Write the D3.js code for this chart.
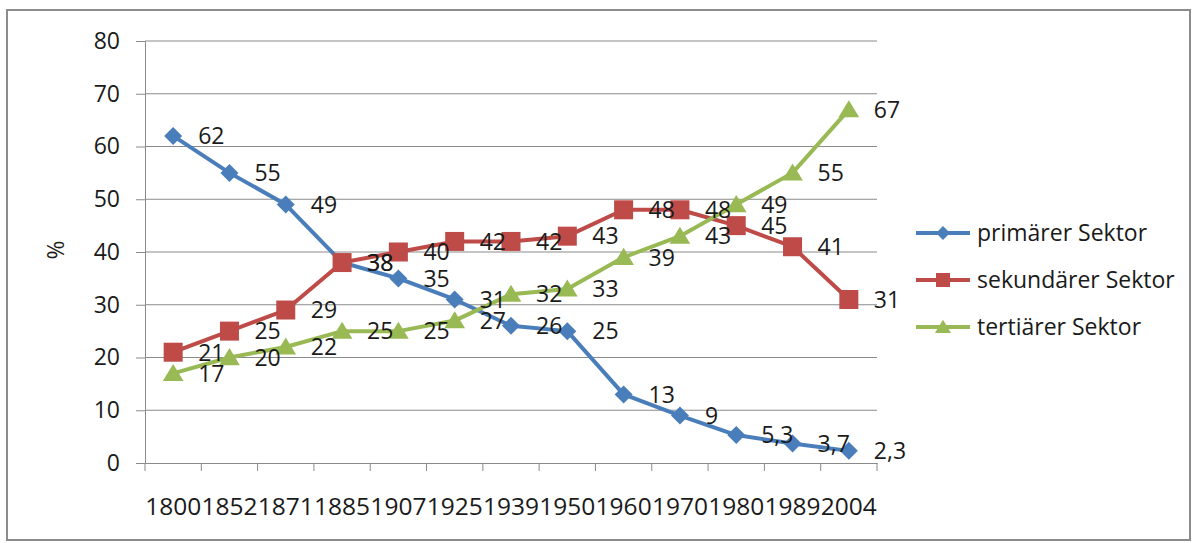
<!DOCTYPE html>
<html>
<head>
<meta charset="utf-8">
<script src="https://cdn.jsdelivr.net/npm/d3@7"></script>
<style>
  html, body { margin: 0; padding: 0; background: #fff; }
  svg { display: block; }
  text { font-family: "Open Sans", "Noto Sans", sans-serif; fill: #1a1a1a; }
</style>
</head>
<body>
<svg id="chart" width="1195" height="543"></svg>
<script>
// Erwerbstätige nach Wirtschaftssektoren (in %)
const years = ["1800", "1852", "1871", "1885", "1907", "1925", "1939", "1950", "1960", "1970", "1980", "1989", "2004"];
const primaer = [62, 55, 49, 38, 35, 31, 26, 25, 13, 9, 5.3, 3.7, 2.3];
const sekundaer = [21, 25, 29, 38, 40, 42, 42, 43, 48, 48, 45, 41, 31];
const tertiaer = [17, 20, 22, 25, 25, 27, 32, 33, 39, 43, 49, 55, 67];
const seriesNames = ["primärer Sektor", "sekundärer Sektor", "tertiärer Sektor"];
const yTicks = [0, 10, 20, 30, 40, 50, 60, 70, 80];

const series = [
  { name: seriesNames[0], values: primaer, color: "#4A7EBB", marker: "diamond" },
  { name: seriesNames[1], values: sekundaer, color: "#BE4B48", marker: "square" },
  { name: seriesNames[2], values: tertiaer, color: "#98B954", marker: "triangle" }
];

const svg = d3.select("#chart");
const plot = { left: 145, right: 877, top: 41, bottom: 463 };

// Outer chart frame
svg.append("rect")
  .attr("x", 7).attr("y", 10)
  .attr("width", 1183).attr("height", 530)
  .attr("fill", "#fff").attr("stroke", "#8c8c8c").attr("stroke-width", 2);

const x = d3.scaleBand().domain(years).range([plot.left, plot.right]).padding(0);
const y = d3.scaleLinear().domain([0, 80]).range([plot.bottom, plot.top]);
const cx = d => x(d) + x.bandwidth() / 2;

// Horizontal gridlines
svg.append("g")
  .selectAll("line").data(yTicks.filter(t => t > 0)).join("line")
  .attr("x1", plot.left).attr("x2", plot.right)
  .attr("y1", d => y(d)).attr("y2", d => y(d))
  .attr("stroke", "#8a8a8a").attr("stroke-width", 1);

// Y axis
const yAxis = svg.append("g")
  .attr("transform", `translate(${plot.left},0)`)
  .call(d3.axisLeft(y).tickValues(yTicks).tickSize(9).tickPadding(16).tickFormat(d3.format("d")));
yAxis.select(".domain").attr("stroke", "#8a8a8a");
yAxis.selectAll(".tick line").attr("stroke", "#8a8a8a");
yAxis.selectAll(".tick text").style("font-size", "23px").style("font-family", "'Open Sans', sans-serif").attr("fill", "#1a1a1a");

// X axis: labels at category centres, tick marks at category boundaries
const xAxis = svg.append("g")
  .attr("transform", `translate(0,${plot.bottom})`)
  .call(d3.axisBottom(x).tickSize(0).tickPadding(35));
xAxis.select(".domain").attr("stroke", "#8a8a8a");
xAxis.selectAll(".tick text").style("font-size", "24.5px").style("font-family", "'Open Sans', sans-serif").attr("fill", "#1a1a1a");
svg.append("g")
  .selectAll("line").data(years.concat(["end"])).join("line")
  .attr("x1", (d, i) => plot.left + i * x.step())
  .attr("x2", (d, i) => plot.left + i * x.step())
  .attr("y1", plot.bottom).attr("y2", plot.bottom + 8)
  .attr("stroke", "#8a8a8a").attr("stroke-width", 1);

// Y axis title
svg.append("text")
  .attr("transform", `translate(64,250) rotate(-90)`)
  .attr("text-anchor", "middle")
  .style("font-size", "23px")
  .text("%");

// Marker shapes
function markerPath(type, s) {
  if (type === "diamond") return `M0,${-s}L${s},0L0,${s}L${-s},0Z`;
  if (type === "square") return `M${-s},${-s}H${s}V${s}H${-s}Z`;
  return `M0,${-s * 1.05}L${s * 1.15},${s * 0.85}H${-s * 1.15}Z`;
}

const line = d3.line().x((d, i) => cx(years[i])).y(d => y(d));

series.forEach(s => {
  const g = svg.append("g");
  g.append("path")
    .datum(s.values)
    .attr("d", line)
    .attr("fill", "none")
    .attr("stroke", s.color)
    .attr("stroke-width", 4)
    .attr("stroke-linejoin", "round");
  g.selectAll("path.m").data(s.values).join("path")
    .attr("class", "m")
    .attr("transform", (d, i) => `translate(${cx(years[i])},${y(d)})`)
    .attr("d", markerPath(s.marker, s.marker === "square" ? 9.5 : 9))
    .attr("fill", s.color);
});

// Data labels to the right of each point
const fmt = v => String(v).replace(".", ",");
series.forEach(s => {
  svg.append("g").selectAll("text").data(s.values).join("text")
    .attr("x", (d, i) => cx(years[i]) + 25)
    .attr("y", d => y(d))
    .attr("dy", "0.36em")
    .style("font-size", "23px")
    .text(d => fmt(d));
});

// Legend
const legend = svg.append("g");
series.forEach((s, i) => {
  const ly = 233 + i * 47;
  legend.append("line")
    .attr("x1", 916).attr("x2", 970).attr("y1", ly).attr("y2", ly)
    .attr("stroke", s.color).attr("stroke-width", 4);
  legend.append("path")
    .attr("transform", `translate(943,${ly})`)
    .attr("d", markerPath(s.marker, 7))
    .attr("fill", s.color);
  legend.append("text")
    .attr("x", 977).attr("y", ly)
    .attr("dy", "0.36em")
    .style("font-size", "23px")
    .text(s.name);
});
</script>
</body>
</html>
